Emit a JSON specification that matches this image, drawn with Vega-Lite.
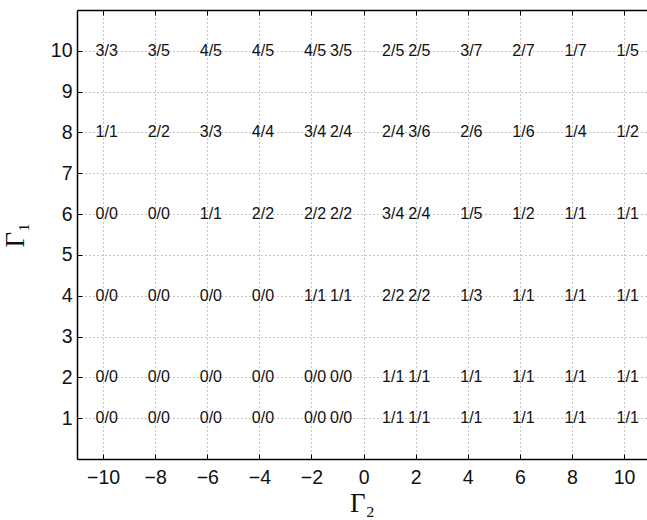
{
  "$schema": "https://vega.github.io/schema/vega-lite/v6.json",
  "autosize": {"type": "none"},
  "padding": {"left": 77, "top": 10, "right": 0, "bottom": 61},
  "width": 570,
  "height": 449,
  "background": "white",
  "config": {
    "view": {"stroke": null},
    "axis": {
      "domainColor": "black",
      "domainWidth": 1.5,
      "tickColor": "black",
      "tickWidth": 1,
      "gridColor": "#888888",
      "gridDash": [1, 3],
      "gridWidth": 1,
      "labelFont": "Liberation Sans",
      "labelFontSize": 19.5,
      "labelColor": "#111111",
      "titleFont": "Liberation Serif",
      "titleFontWeight": "normal",
      "titleFontSize": 27,
      "titleColor": "#111111"
    }
  },
  "data": {
    "values": [
      {"g2": -10, "g1": 10, "label": "3/3"}, {"g2": -8, "g1": 10, "label": "3/5"}, {"g2": -6, "g1": 10, "label": "4/5"}, {"g2": -4, "g1": 10, "label": "4/5"}, {"g2": -2, "g1": 10, "label": "4/5"}, {"g2": -1, "g1": 10, "label": "3/5"}, {"g2": 1, "g1": 10, "label": "2/5"}, {"g2": 2, "g1": 10, "label": "2/5"}, {"g2": 4, "g1": 10, "label": "3/7"}, {"g2": 6, "g1": 10, "label": "2/7"}, {"g2": 8, "g1": 10, "label": "1/7"}, {"g2": 10, "g1": 10, "label": "1/5"},
      {"g2": -10, "g1": 8, "label": "1/1"}, {"g2": -8, "g1": 8, "label": "2/2"}, {"g2": -6, "g1": 8, "label": "3/3"}, {"g2": -4, "g1": 8, "label": "4/4"}, {"g2": -2, "g1": 8, "label": "3/4"}, {"g2": -1, "g1": 8, "label": "2/4"}, {"g2": 1, "g1": 8, "label": "2/4"}, {"g2": 2, "g1": 8, "label": "3/6"}, {"g2": 4, "g1": 8, "label": "2/6"}, {"g2": 6, "g1": 8, "label": "1/6"}, {"g2": 8, "g1": 8, "label": "1/4"}, {"g2": 10, "g1": 8, "label": "1/2"},
      {"g2": -10, "g1": 6, "label": "0/0"}, {"g2": -8, "g1": 6, "label": "0/0"}, {"g2": -6, "g1": 6, "label": "1/1"}, {"g2": -4, "g1": 6, "label": "2/2"}, {"g2": -2, "g1": 6, "label": "2/2"}, {"g2": -1, "g1": 6, "label": "2/2"}, {"g2": 1, "g1": 6, "label": "3/4"}, {"g2": 2, "g1": 6, "label": "2/4"}, {"g2": 4, "g1": 6, "label": "1/5"}, {"g2": 6, "g1": 6, "label": "1/2"}, {"g2": 8, "g1": 6, "label": "1/1"}, {"g2": 10, "g1": 6, "label": "1/1"},
      {"g2": -10, "g1": 4, "label": "0/0"}, {"g2": -8, "g1": 4, "label": "0/0"}, {"g2": -6, "g1": 4, "label": "0/0"}, {"g2": -4, "g1": 4, "label": "0/0"}, {"g2": -2, "g1": 4, "label": "1/1"}, {"g2": -1, "g1": 4, "label": "1/1"}, {"g2": 1, "g1": 4, "label": "2/2"}, {"g2": 2, "g1": 4, "label": "2/2"}, {"g2": 4, "g1": 4, "label": "1/3"}, {"g2": 6, "g1": 4, "label": "1/1"}, {"g2": 8, "g1": 4, "label": "1/1"}, {"g2": 10, "g1": 4, "label": "1/1"},
      {"g2": -10, "g1": 2, "label": "0/0"}, {"g2": -8, "g1": 2, "label": "0/0"}, {"g2": -6, "g1": 2, "label": "0/0"}, {"g2": -4, "g1": 2, "label": "0/0"}, {"g2": -2, "g1": 2, "label": "0/0"}, {"g2": -1, "g1": 2, "label": "0/0"}, {"g2": 1, "g1": 2, "label": "1/1"}, {"g2": 2, "g1": 2, "label": "1/1"}, {"g2": 4, "g1": 2, "label": "1/1"}, {"g2": 6, "g1": 2, "label": "1/1"}, {"g2": 8, "g1": 2, "label": "1/1"}, {"g2": 10, "g1": 2, "label": "1/1"},
      {"g2": -10, "g1": 1, "label": "0/0"}, {"g2": -8, "g1": 1, "label": "0/0"}, {"g2": -6, "g1": 1, "label": "0/0"}, {"g2": -4, "g1": 1, "label": "0/0"}, {"g2": -2, "g1": 1, "label": "0/0"}, {"g2": -1, "g1": 1, "label": "0/0"}, {"g2": 1, "g1": 1, "label": "1/1"}, {"g2": 2, "g1": 1, "label": "1/1"}, {"g2": 4, "g1": 1, "label": "1/1"}, {"g2": 6, "g1": 1, "label": "1/1"}, {"g2": 8, "g1": 1, "label": "1/1"}, {"g2": 10, "g1": 1, "label": "1/1"}
    ]
  },
  "layer": [
    {
      "mark": {"type": "text", "align": "left", "baseline": "middle", "dx": -7.5, "font": "Liberation Sans", "fontSize": 16, "color": "#111111"},
      "encoding": {
        "x": {
          "field": "g2", "type": "quantitative",
          "scale": {"domain": [-11, 10.88], "nice": false, "zero": false},
          "axis": {"values": [-10, -8, -6, -4, -2, 0, 2, 4, 6, 8, 10], "title": "Γ₂", "tickSize": -5, "labelPadding": 14, "titlePadding": 4, "labelExpr": "replace(datum.label, '-', '−')"}
        },
        "y": {
          "field": "g1", "type": "quantitative",
          "scale": {"domain": [0, 11], "nice": false, "zero": false},
          "axis": {"values": [1, 2, 3, 4, 5, 6, 7, 8, 9, 10], "title": "Γ₁", "tickSize": -5, "labelPadding": 10, "titlePadding": 21}
        },
        "text": {"field": "label"}
      }
    },
    {
      "mark": {"type": "point", "opacity": 0},
      "encoding": {
        "x": {
          "field": "g2", "type": "quantitative",
          "axis": {"orient": "top", "values": [-10, -8, -6, -4, -2, 0, 2, 4, 6, 8, 10], "labels": false, "title": null, "grid": false, "tickSize": -5}
        },
        "y": {"field": "g1", "type": "quantitative"}
      }
    }
  ],
  "resolve": {"axis": {"x": "independent"}}
}
